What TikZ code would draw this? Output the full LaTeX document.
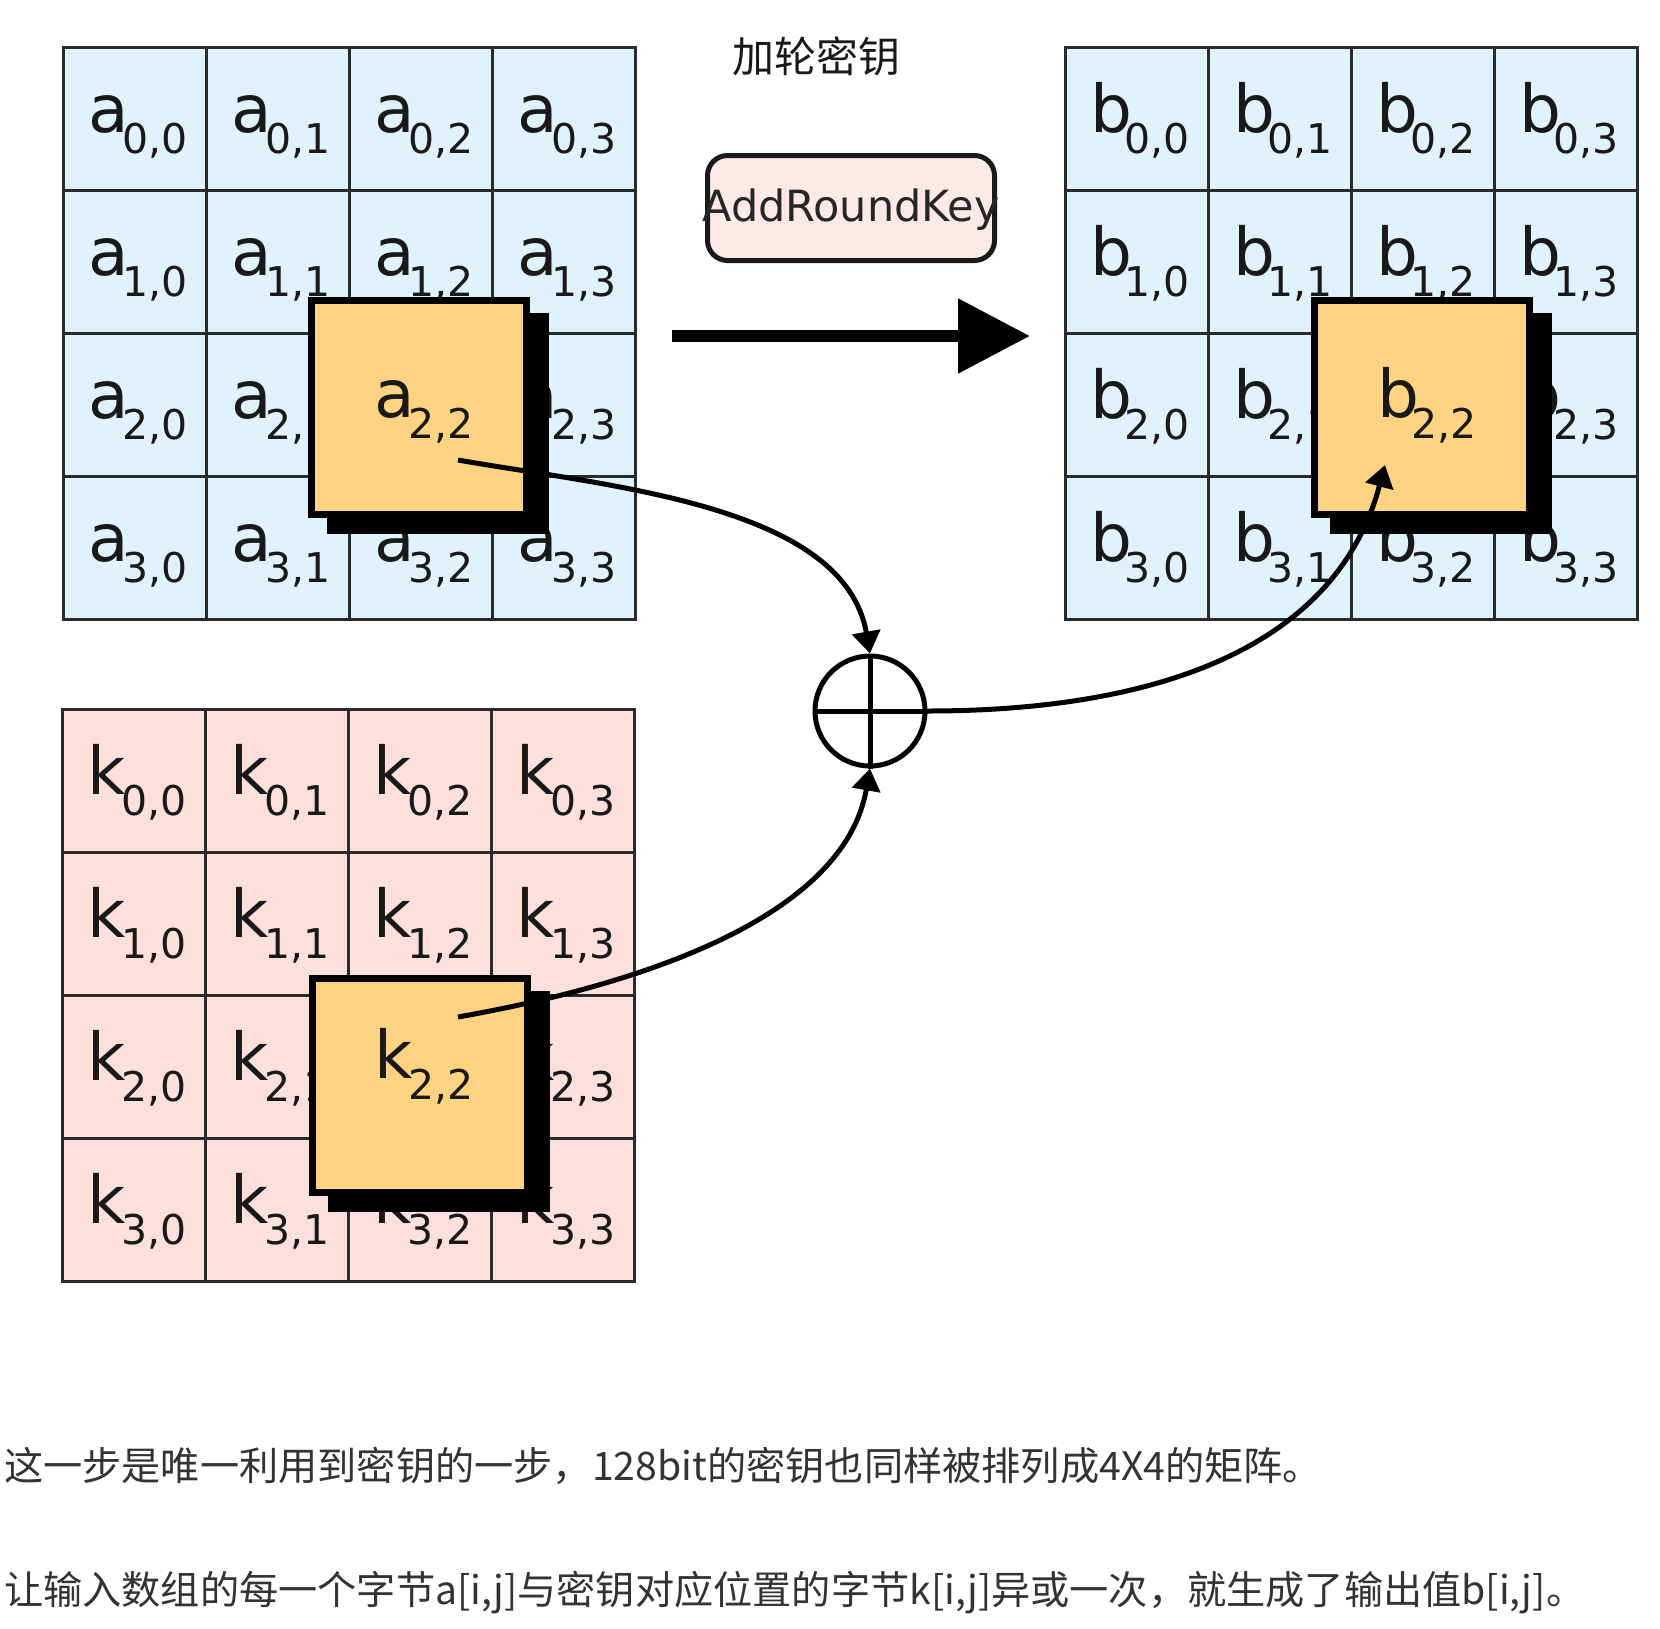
\documentclass[tikz,border=0pt]{standalone}
\usepackage{fontspec}
\setmainfont{DejaVu Sans}
\newfontfamily\cjk{Noto Sans CJK SC}
\usetikzlibrary{arrows.meta}
\definecolor{cellblue}{HTML}{E0F3FC}
\definecolor{cellpink}{HTML}{FDE0DC}
\definecolor{hiorange}{HTML}{FFD382}
\definecolor{keybox}{HTML}{FDEAE6}
\definecolor{gridline}{HTML}{2A2A2A}
\definecolor{txtgray}{HTML}{333333}
\newcommand\glab[2]{\makebox[34pt][l]{\fontsize{66}{66}\selectfont #1}\raisebox{-21pt}{\fontsize{41}{41}\selectfont #2}}
\begin{document}
\begin{tikzpicture}[x=1pt,y=1pt,
  cell/.style={draw=gridline, line width=3pt, minimum size=143pt, inner sep=0pt, outer sep=0pt},
  glabel/.style={anchor=base west, inner sep=0pt, text=black!90},
  hibox/.style={draw=black, line width=7pt, fill=hiorange, minimum width=215pt, minimum height=214pt, inner sep=0pt},
  shadowbox/.style={fill=black, minimum width=222pt, minimum height=221pt, inner sep=0pt},
  conn/.style={line width=5pt, -{Triangle[width=28pt,length=22pt]}},
  bigarrow/.style={line width=12pt, -{Triangle[width=72pt,length=72pt]}},
  textline/.style={anchor=west, inner sep=0pt, font=\cjk\fontsize{39.2}{41}\selectfont, text=txtgray}
  ]
\useasboundingbox (0,0) rectangle (1660,-1628);
\fill[white] (0,0) rectangle (1660,-1628);

% title
\node[font=\cjk\fontsize{42}{42}\selectfont, text=black!90] (title) at (816,-56) {加轮密钥};

% grids
\foreach \i in {0,...,3}{\foreach \j in {0,...,3}{
  \node[cell, fill=cellblue] (a\i\j) at ({63+71.5+143*\j}, {-(47+71.5+143*\i)}) {};
  \node[glabel] (la\i\j) at ({63+25+143*\j}, {-(47+85+143*\i)}) {\glab{a}{\i,\j}};
  \node[cell, fill=cellblue] (b\i\j) at ({1065+71.5+143*\j}, {-(47+71.5+143*\i)}) {};
  \node[glabel] (lb\i\j) at ({1065+25+143*\j}, {-(47+85+143*\i)}) {\glab{b}{\i,\j}};
  \node[cell, fill=cellpink] (k\i\j) at ({62+71.5+143*\j}, {-(709+71.5+143*\i)}) {};
  \node[glabel] (lk\i\j) at ({62+25+143*\j}, {-(709+85+143*\i)}) {\glab{k}{\i,\j}};
}}

% highlighted cells
\node[shadowbox] (sha) at (438,-423.5) {};
\node[hibox] (ha) at (419,-407.5) {};
\node[glabel] (lha) at (374,-417) {\glab{a}{2,2}};

\node[shadowbox] (shb) at (1441,-423.5) {};
\node[hibox] (hb) at (1422,-407.5) {};
\node[glabel] (lhb) at (1377,-417) {\glab{b}{2,2}};

\node[shadowbox] (shk) at (439,-1101.5) {};
\node[hibox] (hk) at (420,-1085.5) {};
\node[glabel] (lhk) at (374,-1078) {\glab{k}{2,2}};

% AddRoundKey box and arrow
\node[draw=black!90, line width=5pt, fill=keybox, rounded corners=20pt, minimum width=287pt, minimum height=105pt, inner sep=0pt, text height=33pt, text depth=7pt, text=black!85] (ark) at (851,-208) {\makebox[250pt]{\fontsize{43}{43}\selectfont AddRoundKey}};
\coordinate (arS) at (672,-336);
\coordinate (arE) at (1030,-336);
\draw[bigarrow] (arS) -- (arE);

% XOR
\node[circle, draw, line width=5pt, minimum size=110pt, inner sep=0pt] (xor) at (870,-711) {};
\draw[line width=5pt] (xor.north) -- (xor.south);
\draw[line width=5pt] (xor.west) -- (xor.east);

% connectors
\coordinate (sa) at (458,-460);
\coordinate (sk) at (458,-1017);
\coordinate (eb) at (1385,-465);
\draw[conn] (sa) to[out=-10,in=100,looseness=0.85] (xor.north);
\draw[conn] (sk) to[out=10,in=-100,looseness=0.85] (xor.south);
\draw[conn] (xor.east) to[out=0,in=-105] (eb);

% text
\node[textline] (t1) at (4,-1466) {这一步是唯一利用到密钥的一步，128bit的密钥也同样被排列成4X4的矩阵。};
\node[textline] (t2) at (4,-1593) {让输入数组的每一个字节a[i,j]与密钥对应位置的字节k[i,j]异或一次，就生成了输出值b[i,j]。};
\end{tikzpicture}
\end{document}
